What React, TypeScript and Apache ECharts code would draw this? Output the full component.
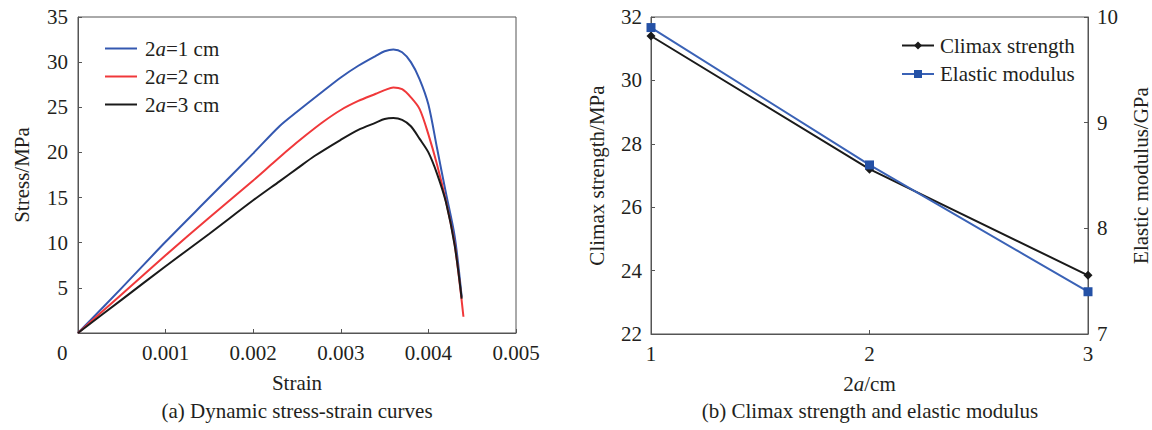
import React, { useEffect, useRef } from "react";
import * as echarts from "echarts";

// ---- Data: (a) dynamic stress-strain curves ----
const strain1 = [0, 0.0005, 0.001, 0.0015, 0.002, 0.0023, 0.0025, 0.0028, 0.003, 0.0032, 0.0034, 0.0035, 0.0036, 0.0037, 0.0038, 0.0039, 0.004, 0.0041, 0.0042, 0.0043, 0.00438];
const stress1 = [0, 5.0, 10.1, 15.0, 19.9, 22.9, 24.5, 26.8, 28.3, 29.6, 30.7, 31.2, 31.4, 31.1, 30.0, 28.1, 25.3, 20.4, 15.5, 10.7, 4.0];

const strain2 = [0, 0.0005, 0.001, 0.0015, 0.002, 0.0022, 0.0024, 0.0026, 0.0028, 0.003, 0.0032, 0.0034, 0.0035, 0.0036, 0.0037, 0.0038, 0.0039, 0.004, 0.0041, 0.0042, 0.0043, 0.0044];
const stress2 = [0, 4.3, 8.6, 12.8, 16.9, 18.6, 20.3, 21.9, 23.4, 24.7, 25.7, 26.5, 26.9, 27.2, 27.0, 26.1, 24.8, 22.0, 18.6, 14.6, 9.8, 1.8];

const strain3 = [0, 0.0005, 0.001, 0.0015, 0.002, 0.0023, 0.0025, 0.0027, 0.003, 0.0032, 0.0034, 0.0035, 0.0036, 0.0037, 0.0038, 0.0039, 0.004, 0.0041, 0.0042, 0.0043, 0.00438];
const stress3 = [0, 3.7, 7.4, 11.0, 14.7, 16.8, 18.2, 19.6, 21.4, 22.5, 23.3, 23.7, 23.8, 23.6, 22.9, 21.5, 20.0, 17.6, 14.5, 9.7, 3.8];

const curveNames = ["2a=1 cm", "2a=2 cm", "2a=3 cm"];

// ---- Data: (b) climax strength and elastic modulus ----
const widths = [1, 2, 3];
const climaxStrength = [31.4, 27.2, 23.85];
const elasticModulus = [9.9, 8.6, 7.4];

const FONT = "'Liberation Serif', 'Times New Roman', serif";
const FS = 21;
const TXT = "#231f20";
const AX = "#555555";

const pairs = (xs: number[], ys: number[]) => xs.map((x, i) => [x, ys[i]]);

export default function App() {
  const ref = useRef<HTMLDivElement>(null);
  useEffect(() => {
    document.body.style.margin = "0";
    const chart = echarts.init(ref.current!, null, { renderer: "svg" });
    const italic = { fontFamily: FONT, fontSize: FS, fontStyle: "italic", color: TXT };
    const axisCommon = {
      axisLine: { show: true, lineStyle: { color: AX, width: 1 } },
      axisTick: { show: true, inside: true, length: 4, lineStyle: { color: AX } },
      splitLine: { show: false },
      axisLabel: { fontFamily: FONT, fontSize: FS, color: TXT },
      nameTextStyle: { fontFamily: FONT, fontSize: FS, color: TXT, rich: { i: italic } },
    };
    chart.setOption({
      animation: false,
      textStyle: { fontFamily: FONT },
      grid: [
        { left: 78, top: 17, width: 438, height: 316, show: true, borderColor: AX, borderWidth: 1 },
        { left: 651, top: 17, width: 438, height: 317, show: true, borderColor: AX, borderWidth: 1 },
      ],
      xAxis: [
        {
          ...axisCommon,
          gridIndex: 0,
          type: "value",
          min: 0,
          max: 0.005,
          interval: 0.001,
          name: "Strain",
          nameLocation: "middle",
          nameGap: 39,
          axisLabel: {
            ...axisCommon.axisLabel,
            margin: 9,
            formatter: (v: number) => (v === 0 ? "" : v.toFixed(3)),
          },
        },
        {
          ...axisCommon,
          gridIndex: 1,
          type: "value",
          min: 1,
          max: 3,
          interval: 1,
          name: "2{i|a}/cm",
          nameLocation: "middle",
          nameGap: 39,
          axisLabel: { ...axisCommon.axisLabel, margin: 9 },
        },
      ],
      yAxis: [
        {
          ...axisCommon,
          gridIndex: 0,
          type: "value",
          min: 0,
          max: 35,
          interval: 5,
          name: "Stress/MPa",
          nameLocation: "middle",
          nameGap: 46,
          axisLabel: {
            ...axisCommon.axisLabel,
            margin: 10,
            formatter: (v: number) => (v === 0 ? "" : String(v)),
          },
        },
        {
          ...axisCommon,
          gridIndex: 1,
          type: "value",
          min: 22,
          max: 32,
          interval: 2,
          name: "Climax strength/MPa",
          nameLocation: "middle",
          nameGap: 44,
          axisLabel: { ...axisCommon.axisLabel, margin: 9 },
        },
        {
          ...axisCommon,
          gridIndex: 1,
          type: "value",
          position: "right",
          min: 7,
          max: 10,
          interval: 1,
          name: "Elastic modulus/GPa",
          nameLocation: "middle",
          nameGap: 42,
          axisLabel: { ...axisCommon.axisLabel, margin: 9 },
        },
      ],
      legend: [
        {
          data: curveNames,
          orient: "vertical",
          left: 100,
          top: 33,
          icon: "rect",
          itemWidth: 32,
          itemHeight: 2,
          itemGap: 7,
          formatter: (n: string) => n.replace("a", "{i|a}"),
          textStyle: {
            fontFamily: FONT,
            fontSize: FS,
            lineHeight: 21,
            color: TXT,
            padding: [0, 0, 0, 3],
            rich: { i: { ...italic, lineHeight: 21 } },
          },
        },
        {
          data: ["Climax strength", "Elastic modulus"],
          orient: "vertical",
          left: 896,
          top: 30,
          itemWidth: 32,
          itemHeight: 10,
          itemGap: 7.5,
          textStyle: { fontFamily: FONT, fontSize: FS, lineHeight: 21, color: TXT, padding: [0, 0, 0, 1] },
        },
      ],
      graphic: [
        { type: "text", left: 57, top: 342, style: { text: "0", font: `${FS}px ${FONT}`, fill: TXT } },
        {
          type: "text",
          x: 297,
          y: 411,
          style: {
            text: "(a) Dynamic stress-strain curves",
            font: `${FS}px ${FONT}`,
            fill: TXT,
            textAlign: "center",
            textVerticalAlign: "middle",
          },
        },
        {
          type: "text",
          x: 870,
          y: 411,
          style: {
            text: "(b) Climax strength and elastic modulus",
            font: `${FS}px ${FONT}`,
            fill: TXT,
            textAlign: "center",
            textVerticalAlign: "middle",
          },
        },
      ],
      series: [
        {
          name: curveNames[0],
          type: "line",
          xAxisIndex: 0,
          yAxisIndex: 0,
          data: pairs(strain1, stress1),
          symbol: "none",
          smooth: 0.3,
          lineStyle: { color: "#3458b0", width: 2 },
          itemStyle: { color: "#3458b0" },
        },
        {
          name: curveNames[1],
          type: "line",
          xAxisIndex: 0,
          yAxisIndex: 0,
          data: pairs(strain2, stress2),
          symbol: "none",
          smooth: 0.3,
          lineStyle: { color: "#f0383a", width: 2 },
          itemStyle: { color: "#f0383a" },
        },
        {
          name: curveNames[2],
          type: "line",
          xAxisIndex: 0,
          yAxisIndex: 0,
          data: pairs(strain3, stress3),
          symbol: "none",
          smooth: 0.3,
          lineStyle: { color: "#1a1a1a", width: 2 },
          itemStyle: { color: "#1a1a1a" },
        },
        {
          name: "Climax strength",
          type: "line",
          xAxisIndex: 1,
          yAxisIndex: 1,
          data: pairs(widths, climaxStrength),
          symbol: "diamond",
          symbolSize: 9,
          lineStyle: { color: "#1a1a1a", width: 2 },
          itemStyle: { color: "#1a1a1a" },
        },
        {
          name: "Elastic modulus",
          type: "line",
          xAxisIndex: 1,
          yAxisIndex: 2,
          data: pairs(widths, elasticModulus),
          symbol: "rect",
          symbolSize: 9,
          lineStyle: { color: "#3a62b6", width: 2 },
          itemStyle: { color: "#2451a6" },
        },
      ],
    });
    return () => chart.dispose();
  }, []);
  return <div ref={ref} style={{ width: 1152, height: 430 }} />;
}
